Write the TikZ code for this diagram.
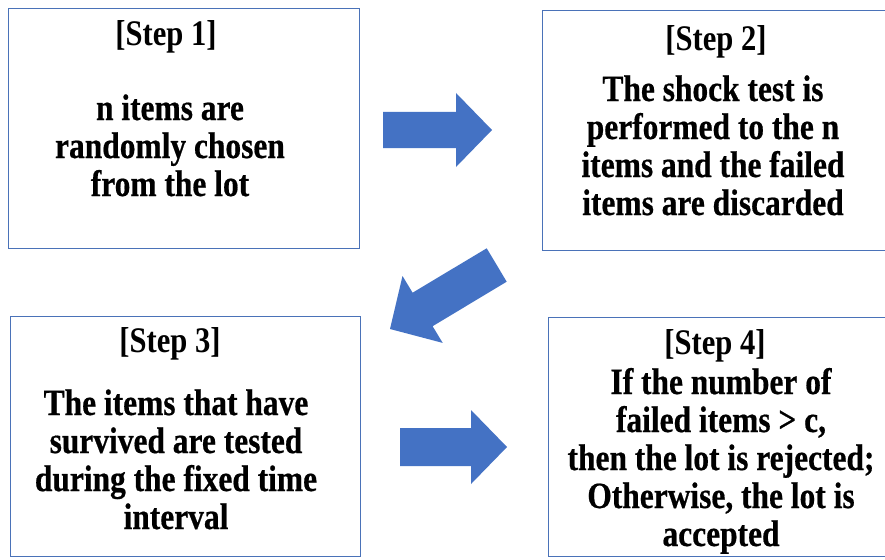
\documentclass[tikz,border=0pt]{standalone}
\usepackage{fontspec}
\setmainfont{Liberation Serif}
\newfontfamily\titlefont[FakeStretch=0.85]{Liberation Serif}
\newfontfamily\bodyfont[FakeStretch=0.85,BoldFeatures={FakeBold=0.5}]{Liberation Serif}
\definecolor{boxblue}{HTML}{4A72B8}
\definecolor{arrowblue}{HTML}{4472C4}
\begin{document}
\begin{tikzpicture}[x=1pt,y=-1pt,
  stepbox/.style={draw=boxblue, line width=0.9pt, fill=white, inner sep=0pt, anchor=north west},
  steptitle/.style={anchor=base, inner sep=0pt, font=\titlefont\bfseries\fontsize{36}{38}\selectfont},
  stepbody/.style={anchor=base, inner sep=0pt, align=center, font=\bodyfont\bfseries\fontsize{37}{38}\selectfont},
  blockarrow/.style={fill=arrowblue, draw=none}]
\useasboundingbox[fill=white] (0,0) rectangle (885,559);
% boxes
\node[stepbox, minimum width=351pt, minimum height=240pt] (s1) at (8,8) {};
\node[stepbox, minimum width=344pt, minimum height=240pt] (s2) at (542,10) {};
\node[stepbox, minimum width=350pt, minimum height=240pt] (s3) at (10,316) {};
\node[stepbox, minimum width=338pt, minimum height=239pt] (s4) at (548,317) {};
% texts (base anchor = baseline of last line)
\node[steptitle] (t1) at (166,46) {[Step 1]};
\node[stepbody] (b1) at (170,196) {n items are\\randomly chosen\\from the lot};
\node[steptitle] (t2) at (716,51) {[Step 2]};
\node[stepbody] (b2) at (713,215) {The shock test is\\performed to the n\\items and the failed\\items are discarded};
\node[steptitle] (t3) at (170,352) {[Step 3]};
\node[stepbody] (b3) at (176,529) {The items that have\\survived are tested\\during the fixed time\\interval};
\node[steptitle] (t4) at (715,354) {[Step 4]};
\node[stepbody] (b4) at (721,546) {If the number of\\failed items > c,\\then the lot is rejected;\\Otherwise, the lot is\\accepted};
% block arrows
\fill[blockarrow] (383,112) -- (456,112) -- (456,93) -- (492,130) -- (456,167) -- (456,148) -- (383,148) -- cycle;
\fill[blockarrow] (486.7,248.3) -- (506.7,281.7) -- (432.6,326.2) -- (442.7,342.9) -- (390,329) -- (402.5,276.0) -- (412.6,292.7) -- cycle;
\fill[blockarrow] (400,428) -- (471,428) -- (471,410) -- (507,447) -- (471,484) -- (471,466) -- (400,466) -- cycle;
\end{tikzpicture}
\end{document}
